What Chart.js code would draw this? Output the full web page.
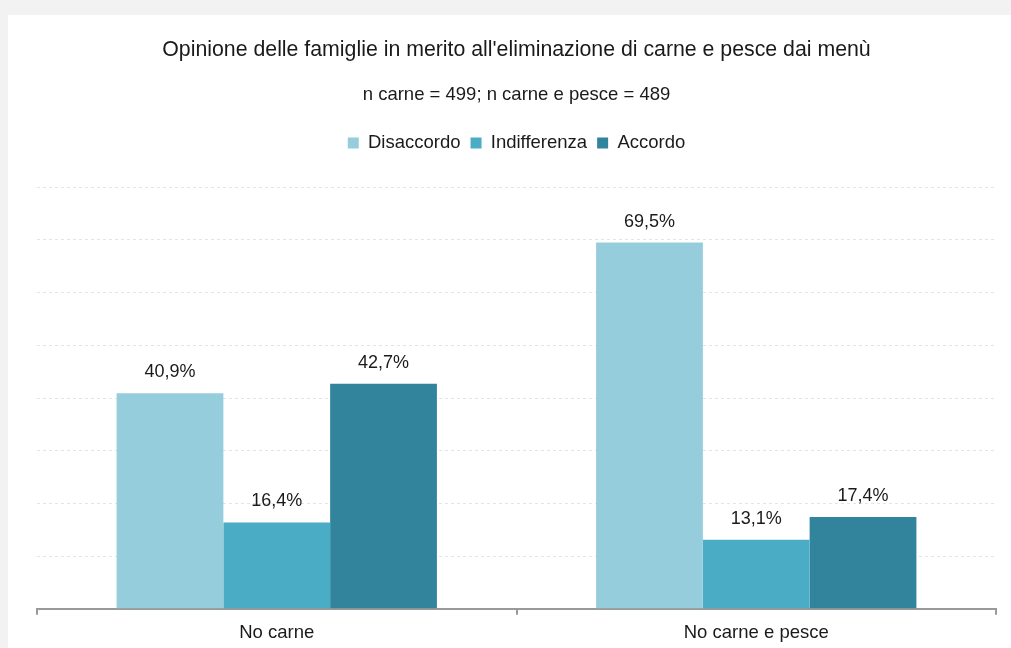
<!DOCTYPE html>
<html lang="it">
  <head>
    <meta charset="UTF-8">
    <title>Opinione delle famiglie</title>
    <script src="https://cdn.jsdelivr.net/npm/chart.js"></script>
    <style>
      html, body { margin: 0; padding: 0; background: #f2f2f2; overflow: hidden; }
      .card { position: absolute; left: 8px; top: 15px; width: 1003px; height: 633px; background: #fff; overflow: hidden; }
      canvas { display: block; }
    </style>
  </head>
  <body>
    <div class="card">
      <canvas id="myChart" width="1003" height="636"></canvas>
    </div>
    <script>
      // Dati del grafico
      const categorie = ['No carne', 'No carne e pesce'];
      const disaccordo = [40.9, 69.5];
      const indifferenza = [16.4, 13.1];
      const accordo = [42.7, 17.4];
      const tickValori = [0, 10, 20, 30, 40, 50, 60, 70, 80];

      const FONT = '"Liberation Sans", Arial, sans-serif';

      // etichette percentuali sopra le barre
      const etichette = {
        id: 'etichette',
        afterDatasetsDraw(chart) {
          const ctx = chart.ctx;
          ctx.save();
          ctx.font = '18px ' + FONT;
          ctx.fillStyle = '#1a1a1a';
          ctx.textAlign = 'center';
          ctx.textBaseline = 'middle';
          chart.data.datasets.forEach((ds, i) => {
            chart.getDatasetMeta(i).data.forEach((bar, j) => {
              const testo = ds.data[j].toFixed(1).replace('.', ',') + '%';
              ctx.fillText(testo, bar.x, bar.y - 21);
            });
          });
          ctx.restore();
        }
      };

      // spazio extra sotto la legenda
      const spazioLegenda = {
        id: 'spazioLegenda',
        beforeInit(chart) {
          const fit = chart.legend.fit;
          chart.legend.fit = function () {
            fit.bind(chart.legend)();
            this.height += 25;
          };
        }
      };

      const ctx = document.getElementById('myChart');
      new Chart(ctx, {
        type: 'bar',
        data: {
          labels: categorie,
          datasets: [
            { label: 'Disaccordo', data: disaccordo, backgroundColor: '#95cddd' },
            { label: 'Indifferenza', data: indifferenza, backgroundColor: '#4bacc6' },
            { label: 'Accordo', data: accordo, backgroundColor: '#31849b' }
          ]
        },
        options: {
          responsive: false,
          animation: false,
          categoryPercentage: 0.668,
          barPercentage: 1,
          layout: { padding: { left: 29, right: 15, top: 0, bottom: 0 } },
          plugins: {
            title: {
              display: true,
              text: "Opinione delle famiglie in merito all'eliminazione di carne e pesce dai menù",
              color: '#1a1a1a',
              font: { family: FONT, size: 21.3, weight: 'normal' },
              padding: { top: 22, bottom: 21 }
            },
            subtitle: {
              display: true,
              text: 'n carne = 499; n carne e pesce = 489',
              color: '#1a1a1a',
              font: { family: FONT, size: 18.5 },
              padding: { bottom: 18 }
            },
            legend: {
              labels: {
                boxWidth: 11,
                boxHeight: 11,
                padding: 10,
                color: '#1a1a1a',
                font: { family: FONT, size: 18.5 }
              }
            },
            tooltip: { enabled: false }
          },
          scales: {
            x: {
              grid: {
                drawOnChartArea: false,
                drawTicks: true,
                tickLength: 6,
                color: '#999',
                lineWidth: 2
              },
              border: { color: '#999', width: 2 },
              ticks: {
                color: '#1a1a1a',
                padding: 7,
                font: { family: FONT, size: 18.5 }
              }
            },
            y: {
              min: tickValori[0],
              max: tickValori[tickValori.length - 1],
              afterBuildTicks(scale) {
                scale.ticks = tickValori.map(v => ({ value: v }));
              },
              ticks: { display: false },
              border: { display: false, dash: [3, 3] },
              grid: { color: '#e4e4e4', drawTicks: false, lineWidth: 1 }
            }
          }
        },
        plugins: [etichette, spazioLegenda]
      });
    </script>
  </body>
</html>
